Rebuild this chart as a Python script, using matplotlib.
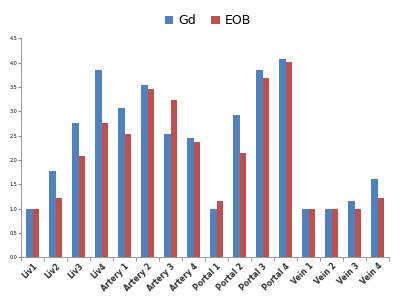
import numpy as np
import matplotlib.pyplot as plt

# category labels and the two series
categories = ["Liv1", "Liv2", "Liv3", "Liv4",
              "Artery 1", "Artery 2", "Artery 3", "Artery 4",
              "Portal 1", "Portal 2", "Portal 3", "Portal 4",
              "Vein 1", "Vein 2", "Vein 3", "Vein 4"]
gd  = [1.00, 1.77, 2.77, 3.85, 3.08, 3.54, 2.54, 2.46,
       1.00, 2.92, 3.85, 4.08, 1.00, 1.00, 1.15, 1.62]
eob = [1.00, 1.23, 2.08, 2.77, 2.54, 3.46, 3.23, 2.38,
       1.15, 2.15, 3.69, 4.01, 1.00, 1.00, 1.00, 1.23]
yticks = [0.0, 0.5, 1.0, 1.5, 2.0, 2.5, 3.0, 3.5, 4.0, 4.5]

fig = plt.figure(figsize=(4, 3), dpi=100)
ax = fig.add_axes([0.053, 0.142, 0.92, 0.73])

x = np.arange(len(categories))
w = 0.29
ax.bar(x - w / 2, gd,  width=w, color="#4F81BD", label="Gd")
ax.bar(x + w / 2, eob, width=w, color="#C0504D", label="EOB")

ax.set_xlim(-0.5, len(categories) - 0.5)
ax.set_ylim(0, 4.5)
ax.set_yticks(yticks)
ax.set_yticklabels([f"{v:.1f}" for v in yticks], fontsize=3.5)
ax.set_xticks(x)
ax.set_xticklabels(categories, rotation=45, ha="right", rotation_mode="anchor",
                   fontsize=5.5, fontweight="bold", color="#333333")
ax.set_xticks(np.arange(len(categories) + 1) - 0.5, minor=True)
ax.tick_params(axis="x", which="major", length=0, pad=3)
ax.tick_params(axis="x", which="minor", length=3, color="#888888")
ax.tick_params(axis="y", length=2, color="#888888", pad=1)

for s in ["top", "right"]:
    ax.spines[s].set_visible(False)
for s in ["left", "bottom"]:
    ax.spines[s].set_color("#888888")
    ax.spines[s].set_linewidth(0.6)

fig.legend(loc="upper center", bbox_to_anchor=(0.52, 0.99), ncol=2, frameon=False,
           fontsize=9, handlelength=0.7, handleheight=0.7, handletextpad=0.4,
           columnspacing=1.2)

fig.savefig("out.png", dpi=100)
